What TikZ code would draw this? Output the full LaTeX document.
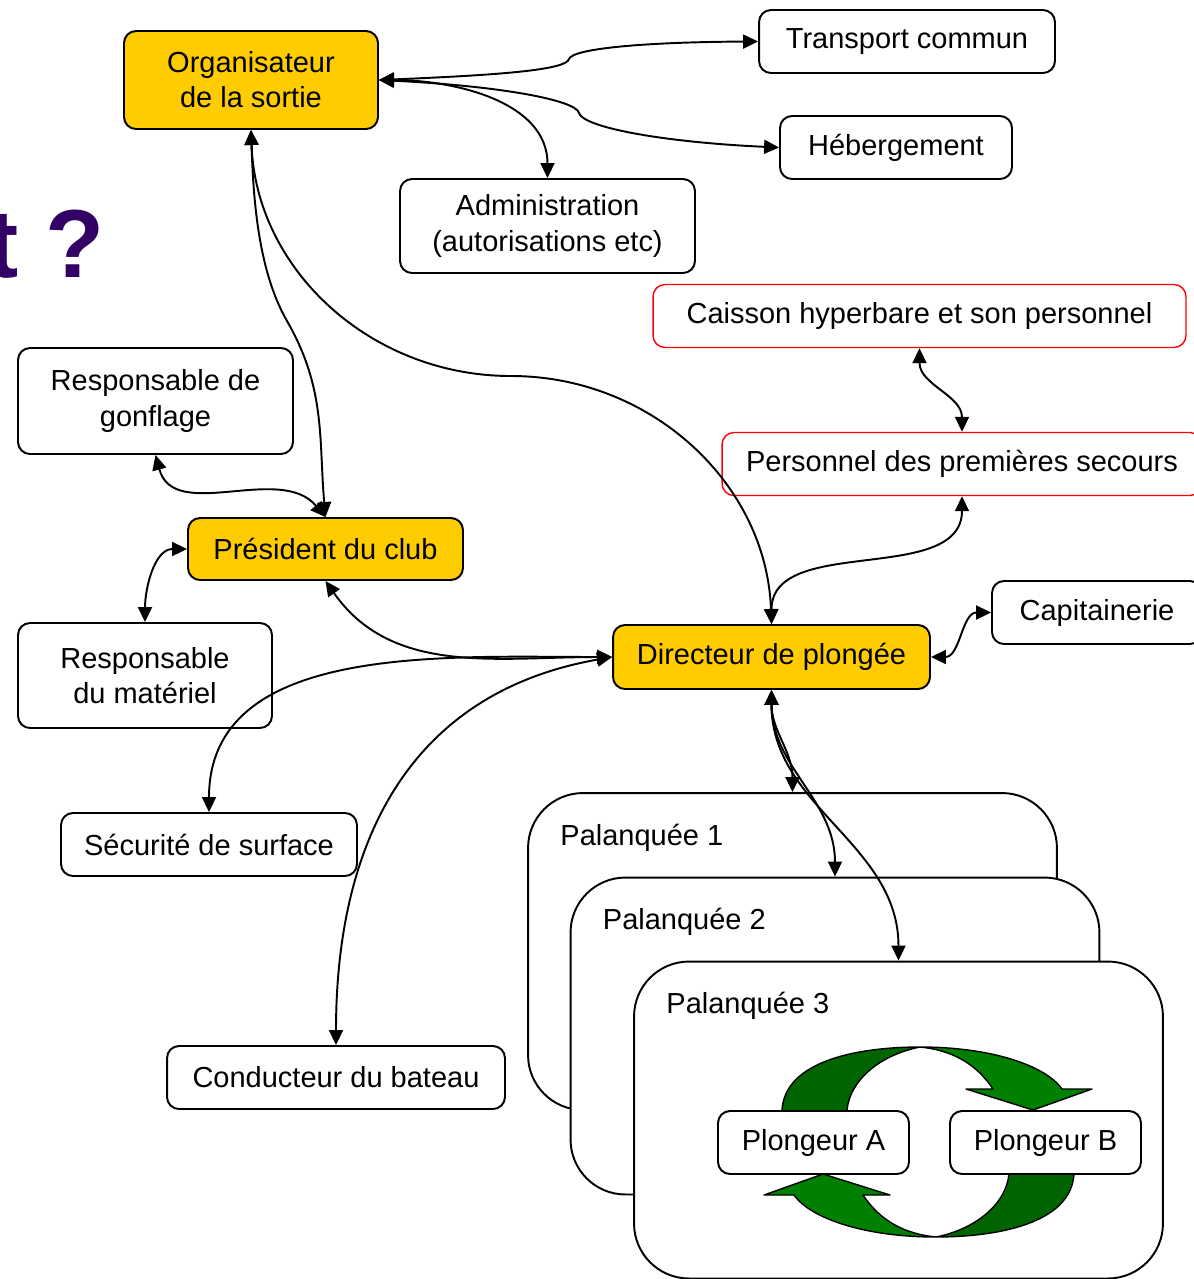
\documentclass[tikz,border=0pt]{standalone}
\usepackage{fontspec}
\setmainfont{Liberation Sans}
\usetikzlibrary{arrows.meta,positioning}
\definecolor{gold}{RGB}{255,204,0}
\definecolor{titlepurple}{RGB}{51,0,102}
\definecolor{darkgreen}{RGB}{0,100,0}
\definecolor{midgreen}{RGB}{0,128,0}

\begin{document}
\begin{tikzpicture}[
  x=0.02cm, y=0.02cm,
  box/.style={rectangle, draw, rounded corners=0.24cm, line width=1.1pt, fill=white, align=center, inner sep=0pt, font=\fontsize{16.5}{20}\selectfont},
  role/.style={box, fill=gold},
  redbox/.style={box, draw=red, line width=0.8pt},
  group/.style={rectangle, draw, rounded corners=1.1cm, line width=1.1pt, fill=white, minimum width=10.58cm, minimum height=6.34cm},
  grouplabel/.style={anchor=base west, inner sep=0pt, font=\fontsize{16.5}{20}\selectfont},
  link/.style={<->, line width=1.1pt},
  >={Triangle[length=3mm,width=2.8mm]}
]
\useasboundingbox (0,0) rectangle (1194,-1279);

% Title fragment
\node[anchor=base east, inner sep=0pt, text=titlepurple, font=\fontsize{55}{60}\selectfont\bfseries] (title) at (105,-277) {t ?};

% Palanquees
\node[group] (p1) at (792.5,-951.5) {};
\node[grouplabel] (p1lbl) at ([shift={(33,-53)}]p1.north west) {Palanquée 1};
\node[group] (p2) at (835,-1036) {};
\node[grouplabel] (p2lbl) at ([shift={(33,-53)}]p2.north west) {Palanquée 2};
\node[group] (p3) at (898.5,-1120) {};
\node[grouplabel] (p3lbl) at ([shift={(33,-53)}]p3.north west) {Palanquée 3};

% Rotation des plongeurs
\foreach \a in {0,180} {
  \begin{scope}[rotate around={\a:(928,-1142)}]
    \fill[darkgreen] (782,-1110) .. controls (785,-1060) and (860,-1047) .. (920,-1047)
      .. controls (880,-1055) and (850,-1080) .. (847,-1110) -- cycle;
    \fill[midgreen] (920,-1047) .. controls (990,-1047) and (1045,-1065) .. (1062,-1089)
      -- (1092,-1089) -- (1033,-1110) -- (966,-1089) -- (993,-1089)
      .. controls (975,-1062) and (950,-1050) .. (920,-1047) -- cycle;
    \draw[line width=0.8pt, line join=round] (782,-1110) .. controls (785,-1060) and (860,-1047) .. (920,-1047)
      .. controls (990,-1047) and (1045,-1065) .. (1062,-1089)
      -- (1092,-1089) -- (1033,-1110) -- (966,-1089) -- (993,-1089)
      .. controls (975,-1062) and (950,-1050) .. (920,-1047)
      .. controls (880,-1055) and (850,-1080) .. (847,-1110);
  \end{scope}
}

\node[box, minimum width=3.82cm, minimum height=1.26cm] (plA) at (813.5,-1142.5) {Plongeur A};
\node[box, minimum width=3.82cm, minimum height=1.26cm] (plB) at (1045.5,-1142.5) {Plongeur B};

% Roles
\node[role, minimum width=5.08cm, minimum height=1.96cm] (org) at (251,-80) {Organisateur\\de la sortie};
\node[box, minimum width=5.92cm, minimum height=1.26cm] (transport) at (907,-41.5) {Transport commun};
\node[box, minimum width=4.64cm, minimum height=1.26cm] (heberg) at (896,-147.5) {Hébergement};
\node[box, minimum width=5.9cm, minimum height=1.88cm] (admin) at (547.5,-226) {Administration\\(autorisations etc)};
\node[redbox, minimum width=10.66cm, minimum height=1.26cm] (caisson) at (919.5,-316) {Caisson hyperbare et son personnel};
\node[redbox, minimum width=9.6cm, minimum height=1.26cm] (secours) at (962,-464) {Personnel des premières secours};
\node[box, minimum width=5.5cm, minimum height=2.12cm] (gonflage) at (155.5,-401) {Responsable de\\gonflage};
\node[role, minimum width=5.5cm, minimum height=1.24cm] (president) at (325.5,-549) {Président du club};
\node[box, minimum width=5.08cm, minimum height=2.1cm] (materiel) at (145,-675.5) {Responsable\\du matériel};
\node[role, minimum width=6.34cm, minimum height=1.28cm] (dp) at (771.5,-657) {Directeur de plongée};
\node[box, minimum width=4.2cm, minimum height=1.26cm] (capit) at (1097,-612.5) {Capitainerie};
\node[box, minimum width=5.92cm, minimum height=1.26cm] (securite) at (209,-844.5) {Sécurité de surface};
\node[box, minimum width=6.76cm, minimum height=1.26cm] (conducteur) at (336,-1077.5) {Conducteur du bateau};

% Bends of the long connectors
\coordinate (tbend) at (569,-59);
\coordinate (hbend) at (579,-113);
\coordinate (pbend) at (287,-321);
\coordinate (dbend) at (511,-376);

% Arrows
\draw[link] (org.east) .. controls (500,-75) and (566,-70) .. (tbend)
  .. controls (573,-48) and (650,-42) .. (transport.west);
\draw[link] (org.east) .. controls (500,-86) and (576,-100) .. (hbend)
  .. controls (583,-127) and (660,-142) .. (heberg.west);
\draw[link] (org.east) to[out=0,in=90] (admin.north);
\draw[link] (org.south) to[out=-88,in=120,looseness=0.8] (pbend) to[out=-60,in=95] (president.north);
\draw[link] (org.south) to[out=-88,in=180] (dbend) to[out=0,in=92] (dp.north);
\draw[link] (gonflage.south) to[out=-75,in=130] (president.north);
\draw[link] (president.west) to[out=180,in=90] (materiel.north);
\draw[link] (president.south) to[out=-55,in=180] (dp.west);
\draw[link] (dp.west) to[out=180,in=90] (securite.north);
\draw[link] (dp.west) to[out=190,in=90, looseness=1.1] (conducteur.north);
\draw[link] (dp.north) to[out=90,in=-90] (secours.south);
\draw[link] (caisson.south) to[out=-90,in=90] (secours.north);
\draw[link] (dp.east) to[out=0,in=180] (capit.west);
\draw[link] (dp.south) to[out=-90,in=90] (p1.north);
\draw[link] (dp.south) to[out=-90,in=90] (p2.north);
\draw[link] (dp.south) to[out=-90,in=90] (p3.north);

\end{tikzpicture}
\end{document}
